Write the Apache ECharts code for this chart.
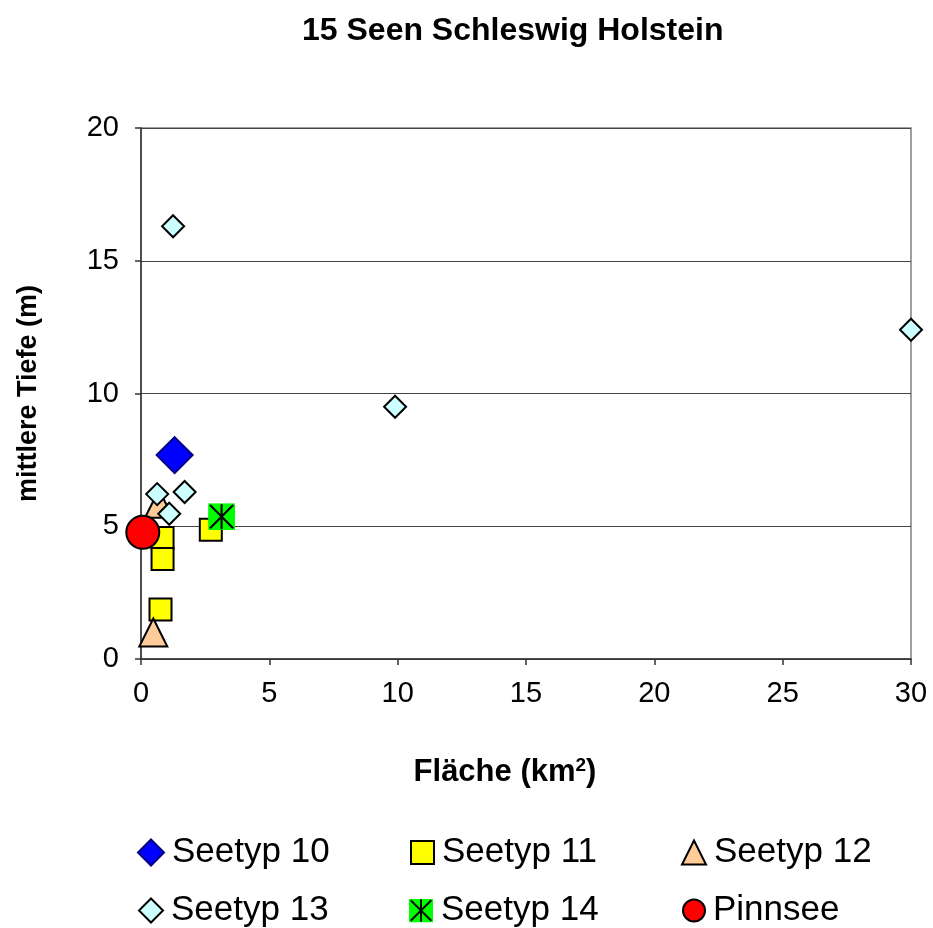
<!DOCTYPE html>
<html>
<head>
<meta charset="utf-8">
<script src="https://cdn.jsdelivr.net/npm/echarts@6/dist/echarts.min.js"></script>
<style>
  html, body { margin: 0; padding: 0; background: #fff; }
  #chart { width: 933px; height: 928px; }
</style>
</head>
<body>
<div id="chart"></div>
<script>
// Lake area (km²) vs. mean depth (m), grouped by lake type
const seetyp10 = [[1.31, 7.68]];
const seetyp11 = [[0.84, 4.56], [0.84, 3.77], [0.76, 1.86], [2.72, 4.87]];
const seetyp12 = [[0.48, 1.0], [0.70, 5.85]];
const seetyp13 = [[1.25, 16.3], [30.0, 12.4], [9.9, 9.5], [0.63, 6.21], [1.70, 6.29], [1.10, 5.47]];
const seetyp14 = [[3.14, 5.36]];
const pinnsee = [[0.07, 4.77]];

const xTicks = [0, 5, 10, 15, 20, 25, 30];
const yTicks = [0, 5, 10, 15, 20];

const FONT = '"Liberation Sans", Arial, sans-serif';

// green square with a black asterisk
const starSvg = "<svg xmlns='http://www.w3.org/2000/svg' width='28' height='28' viewBox='0 0 28 28'>" +
  "<rect width='28' height='28' fill='#00FF00'/>" +
  "<path d='M2,2L26,26M26,2L2,26M14,1V27' stroke='#000' stroke-width='2.2' fill='none'/></svg>";
const starSymbol = 'image://data:image/svg+xml;charset=utf-8,' + encodeURIComponent(starSvg);

const chart = echarts.init(document.getElementById('chart'), null, { renderer: 'canvas' });

function legendItem(name, left, top, size) {
  return {
    data: [name], left: left, top: top,
    itemWidth: size, itemHeight: size,
    selectedMode: false,
    padding: 0,
    textStyle: { fontSize: 35, fontFamily: FONT, color: '#000', padding: [0, 0, 0, 3] }
  };
}

const option = {
  backgroundColor: '#fff',
  animation: false,
  title: {
    text: '15 Seen Schleswig Holstein',
    left: 297, top: 10,
    textStyle: { fontSize: 32, fontWeight: 'bold', fontFamily: FONT, color: '#000' }
  },
  grid: {
    left: 141, right: 22, top: 128, bottom: 269,
    show: true, borderColor: '#808080', borderWidth: 1.5, backgroundColor: '#fff'
  },
  legend: [
    legendItem('Seetyp 10', 137, 835, 26),
    legendItem('Seetyp 11', 410, 835, 23),
    legendItem('Seetyp 12', 681, 835, 24),
    legendItem('Seetyp 13', 138, 893, 24),
    legendItem('Seetyp 14', 409, 893, 24),
    legendItem('Pinnsee', 682, 893, 22)
  ],
  xAxis: {
    type: 'value', min: xTicks[0], max: xTicks[xTicks.length - 1], interval: 5,
    name: '{a|Fläche (km}{s|2}{a|)}',
    nameLocation: 'middle', nameGap: 97,
    nameTextStyle: {
      padding: [0, 42, 0, 0],
      rich: {
        a: { fontSize: 31, fontWeight: 'bold', fontFamily: FONT, color: '#000' },
        s: { fontSize: 19, fontWeight: 'bold', fontFamily: FONT, color: '#000', verticalAlign: 'top', padding: [0, 0, 14, 0] }
      }
    },
    axisLine: { show: true, lineStyle: { color: '#333', width: 1.5 } },
    axisTick: { show: true, inside: false, length: 6, lineStyle: { color: '#333', width: 1.5 } },
    axisLabel: { fontSize: 29, fontFamily: FONT, color: '#000', margin: 20 },
    splitLine: { show: false }
  },
  yAxis: {
    type: 'value', min: yTicks[0], max: yTicks[yTicks.length - 1], interval: 5,
    name: 'mittlere Tiefe (m)',
    nameLocation: 'middle', nameGap: 99, nameRotate: 90,
    nameTextStyle: { fontSize: 27, fontWeight: 'bold', fontFamily: FONT, color: '#000' },
    axisLine: { show: true, lineStyle: { color: '#333', width: 1.5 } },
    axisTick: { show: true, inside: false, length: 6, lineStyle: { color: '#333', width: 1.5 } },
    axisLabel: { fontSize: 29, fontFamily: FONT, color: '#000', margin: 22 },
    splitLine: { show: true, lineStyle: { color: '#444', width: 1 } }
  },
  series: [
    {
      name: 'Seetyp 10', type: 'scatter', data: seetyp10, clip: false,
      symbol: 'diamond', symbolSize: 36,
      itemStyle: { color: '#0000FF', borderColor: '#000080', borderWidth: 2, opacity: 1 }
    },
    {
      name: 'Seetyp 11', type: 'scatter', data: seetyp11, clip: false,
      symbol: 'rect', symbolSize: 22,
      itemStyle: { color: '#FFFF00', borderColor: '#000', borderWidth: 2, opacity: 1 }
    },
    {
      name: 'Seetyp 12', type: 'scatter', data: seetyp12, clip: false,
      symbol: 'triangle', symbolSize: 28,
      itemStyle: { color: '#FFCC99', borderColor: '#000', borderWidth: 2, opacity: 1 }
    },
    {
      name: 'Seetyp 13', type: 'scatter', data: seetyp13, clip: false,
      symbol: 'diamond', symbolSize: 22,
      itemStyle: { color: '#CCFFFF', borderColor: '#000', borderWidth: 2, opacity: 1 }
    },
    {
      name: 'Seetyp 14', type: 'scatter', data: seetyp14, clip: false,
      symbol: starSymbol, symbolSize: 27,
      itemStyle: { color: '#00FF00', opacity: 1 }
    },
    {
      name: 'Pinnsee', type: 'scatter', data: pinnsee, clip: false,
      symbol: 'circle', symbolSize: 33,
      itemStyle: { color: '#FF0000', borderColor: '#000', borderWidth: 2, opacity: 1 }
    }
  ]
};

chart.setOption(option);
</script>
</body>
</html>
